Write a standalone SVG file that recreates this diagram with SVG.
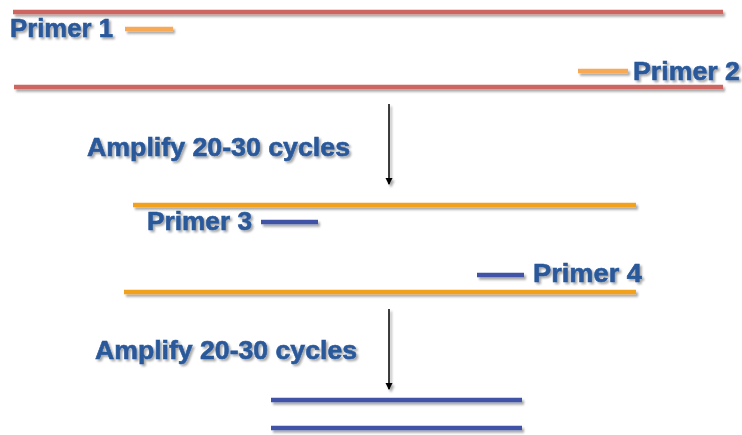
<svg xmlns="http://www.w3.org/2000/svg" width="742" height="435" viewBox="0 0 742 435">
<defs>
<filter id="sh" x="-10%" y="-50%" width="120%" height="200%">
<feDropShadow dx="2" dy="2" stdDeviation="1.2" flood-color="#000" flood-opacity="0.35"/>
</filter>
<filter id="lsh" filterUnits="userSpaceOnUse" x="0" y="0" width="742" height="435">
<feDropShadow dx="2" dy="2.5" stdDeviation="1.3" flood-color="#000" flood-opacity="0.35"/>
</filter>
<marker id="ah2" markerWidth="8" markerHeight="8" refX="6" refY="4" orient="auto" viewBox="0 0 8 8" markerUnits="userSpaceOnUse">
<path d="M0,0.5 L7,4 L0,7.5 z" fill="#000"/>
</marker>
</defs>
<style>
.t{font-family:"Liberation Sans",Arial,sans-serif;font-weight:bold;font-size:26px;fill:#29599A;stroke:#29599A;stroke-width:0.6;filter:url(#sh)}
.red{stroke:#CD6660;stroke-width:4.5;filter:url(#lsh)}
.or{stroke:#F2A11E;stroke-width:4.5;filter:url(#lsh)}
.lor{stroke:#F7A955;stroke-width:4.5;filter:url(#lsh)}
.bl{stroke:#3F53A6;stroke-width:4.5;filter:url(#lsh)}
.ar{stroke:#000;stroke-width:1.5;fill:none;marker-end:url(#ah2);filter:url(#lsh)}
</style>
<rect width="742" height="435" fill="#fff"/>
<g id="strand-red-top"><line class="red" x1="13" y1="12" x2="723" y2="12"/></g>
<g id="primer1"><text class="t" x="10" y="37" textLength="103" lengthAdjust="spacingAndGlyphs">Primer 1</text><line class="lor" x1="125" y1="29" x2="173" y2="29"/></g>
<g id="primer2"><line class="lor" x1="578" y1="71" x2="628" y2="71"/><text class="t" x="633" y="80" textLength="107" lengthAdjust="spacingAndGlyphs">Primer 2</text></g>
<g id="strand-red-bottom"><line class="red" x1="14" y1="87" x2="723" y2="87"/></g>
<g id="amplify1"><text class="t" x="87" y="156" textLength="263" lengthAdjust="spacingAndGlyphs">Amplify 20-30 cycles</text></g>
<g id="strand-orange-top"><line class="or" x1="133" y1="205" x2="636" y2="205"/></g>
<g id="primer3"><text class="t" x="147" y="230" textLength="105" lengthAdjust="spacingAndGlyphs">Primer 3</text><line class="bl" x1="261" y1="222" x2="318" y2="222"/></g>
<g id="primer4"><line class="bl" x1="477" y1="275" x2="524" y2="275"/><text class="t" x="533" y="282" textLength="109" lengthAdjust="spacingAndGlyphs">Primer 4</text></g>
<g id="strand-orange-bottom"><line class="or" x1="124" y1="292" x2="636" y2="292"/></g>
<g id="amplify2"><text class="t" x="95" y="359" textLength="262" lengthAdjust="spacingAndGlyphs">Amplify 20-30 cycles</text></g>
<g id="product"><line class="bl" x1="271" y1="400" x2="522" y2="400"/><line class="bl" x1="271" y1="428" x2="522" y2="428"/></g>
<g id="connectors">
<line class="ar" x1="389" y1="104" x2="389" y2="184"/>
<line class="ar" x1="389" y1="309" x2="389" y2="389"/>
</g>
</svg>
